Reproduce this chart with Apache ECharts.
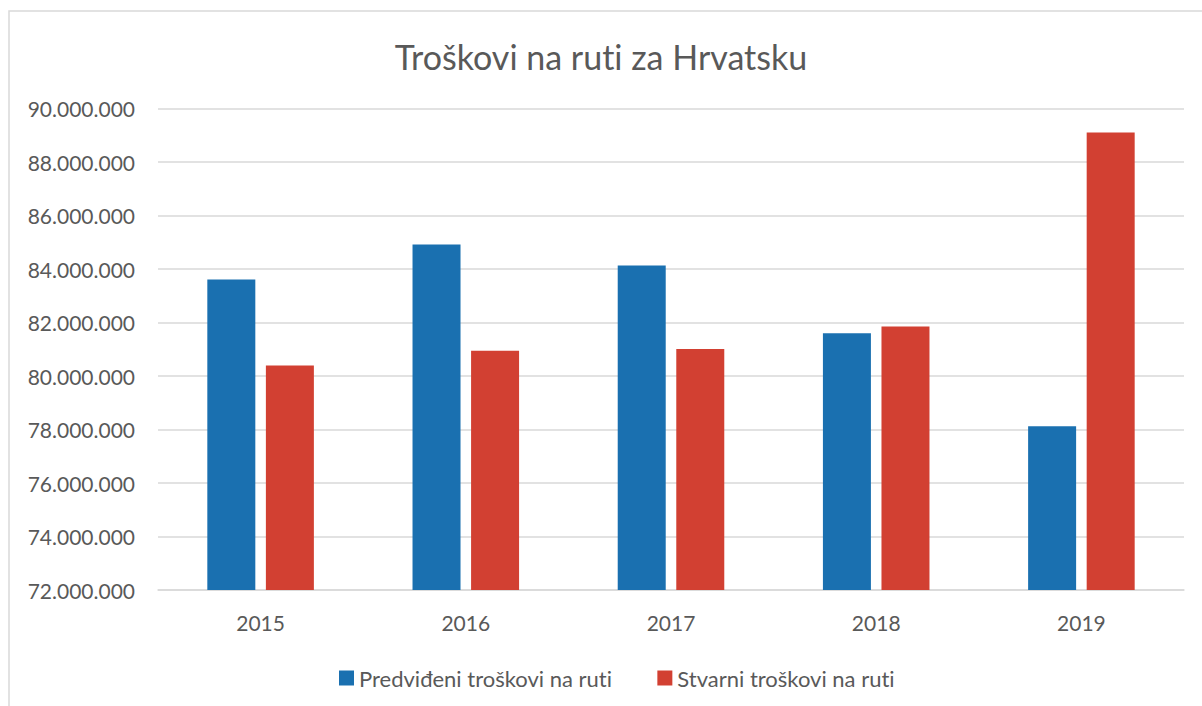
<!DOCTYPE html>
<html>
<head>
<meta charset="utf-8">
<script src="https://cdn.jsdelivr.net/npm/echarts@6/dist/echarts.min.js"></script>
<style>
  html, body { margin: 0; padding: 0; background: #fff; }
  #chart { width: 1202px; height: 706px; }
  /* plain letter pairs, no "ti" ligature */
  #chart text { font-variant-ligatures: none !important; }
</style>
</head>
<body>
<div id="chart"></div>
<script>
// Yearly route costs for Croatia: planned vs. actual
const years = ['2015', '2016', '2017', '2018', '2019'];
const predicted = [83610000, 84920000, 84140000, 81600000, 78120000];
const actual = [80400000, 80950000, 81010000, 81850000, 89110000];
const seriesNames = ['Predviđeni troškovi na ruti', 'Stvarni troškovi na ruti'];
const titleText = 'Troškovi na ruti za Hrvatsku';

const FONT = 'Lato';
const TEXT = '#595959';
const GRIDLINE = '#d9d9d9';

// thousands separated with dots, e.g. 90.000.000
const fmt = v => String(Math.round(v)).replace(/\B(?=(\d{3})+(?!\d))/g, '.');

const chart = echarts.init(document.getElementById('chart'), null, { renderer: 'svg' });
chart.setOption({
  animation: false,
  backgroundColor: '#ffffff',
  textStyle: { fontFamily: FONT, color: TEXT },
  title: {
    text: titleText,
    left: 'center',
    top: 34,
    textStyle: { fontFamily: FONT, fontSize: 34, fontWeight: 'normal', color: TEXT }
  },
  legend: {
    left: 334,
    top: 662,
    icon: 'rect',
    itemWidth: 15,
    itemHeight: 15,
    itemGap: 45,
    textStyle: { fontFamily: FONT, fontSize: 22, color: TEXT },
    data: seriesNames
  },
  grid: { left: 158, right: 18, top: 108.7, bottom: 116 },
  xAxis: {
    type: 'category',
    data: years,
    axisLine: { show: true, lineStyle: { color: GRIDLINE, width: 1.5 } },
    axisTick: { show: false },
    axisLabel: { fontFamily: FONT, fontSize: 21, color: TEXT, margin: 22 }
  },
  yAxis: {
    type: 'value',
    min: 72000000,
    max: 90000000,
    interval: 2000000,
    axisLine: { show: false },
    axisTick: { show: false },
    splitLine: { lineStyle: { color: GRIDLINE, width: 1.5 } },
    axisLabel: { fontFamily: FONT, fontSize: 21, color: TEXT, margin: 23, formatter: fmt }
  },
  graphic: [{
    // chart-area frame
    type: 'rect',
    shape: { x: 9, y: 11, width: 1400, height: 900 },
    style: { fill: null, stroke: GRIDLINE, lineWidth: 1.5 },
    silent: true
  }],
  series: [
    { name: seriesNames[0], type: 'bar', data: predicted, barWidth: 48, barGap: '22%', itemStyle: { color: '#1a70b0' } },
    { name: seriesNames[1], type: 'bar', data: actual, barWidth: 48, itemStyle: { color: '#d24032' } }
  ]
});
</script>
</body>
</html>
